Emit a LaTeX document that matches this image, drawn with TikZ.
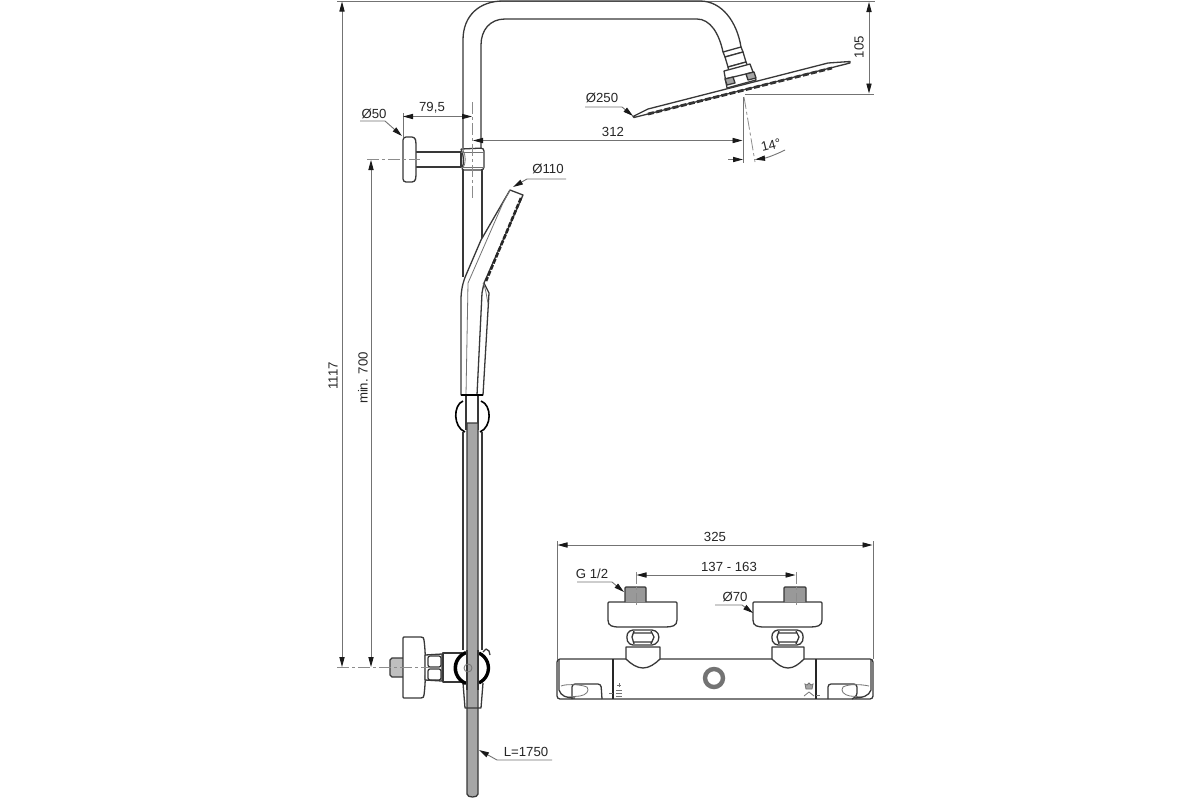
\documentclass[tikz,border=0pt]{standalone}
\usepackage{fontspec}
\setmainfont{Liberation Sans}
\usetikzlibrary{arrows.meta}
\tikzset{
 obj/.style={draw=black!78,line width=0.65pt,line join=round},
 thinobj/.style={draw=black!55,line width=0.4pt},
 dimline/.style={draw=black!55,line width=0.45pt},
 centerline/.style={draw=black!45,line width=0.4pt,dash pattern=on 6pt off 1.5pt on 1.5pt off 1.5pt},
 tip/.style={-{Triangle[length=5pt,width=2.6pt,color=black!90]}},
 tips/.style={{Triangle[length=5pt,width=2.6pt,color=black!90]}-{Triangle[length=5pt,width=2.6pt,color=black!90]}},
 lbl/.style={font=\fontsize{6.6}{8}\selectfont,text=black!85,inner sep=0pt},
 thread/.style={obj,fill=black!40},
}
\begin{document}
\begin{tikzpicture}[x=0.5pt,y=-0.5pt]
\useasboundingbox[fill=white] (0,0) rectangle (1200,800);

% --- overall extension lines
\draw[dimline] (337,1) -- (875,1);
\draw[dimline] (745,94) -- (874,94);

% --- riser pipe
\draw[obj] (463,148) -- (463,40) .. controls (463,15) and (480,1) .. (503,1) -- (700,1)
  .. controls (722,1) and (737,22) .. (741,47);
\draw[obj] (481,148) -- (481,45) .. controls (481,30) and (490,19) .. (505,19) -- (697,19)
  .. controls (710,19) and (719,33) .. (723,52);
\draw[obj] (463,170) -- (463,277);
\draw[obj] (482,170) -- (482,240);

% --- rain head joint
\draw[obj,fill=white] (723,52) -- (741,47) -- (743,52) -- (725,57) -- cycle;
\draw[obj,fill=white] (725,57) -- (743,52) -- (746,62) -- (728,67) -- cycle;
\draw[obj,fill=white] (728,67) -- (746,62) -- (748,67) -- (729,72) -- cycle;
\draw[obj,fill=white] (724,71) -- (750,64) -- (756,80) -- (727,88) -- cycle;
\draw[obj] (725,79) -- (754,72);
\draw[obj,fill=black!35] (725,79) -- (733,77) -- (735,83) -- (727,85) -- cycle;
\draw[obj,fill=black!35] (746,74) -- (754,72) -- (756,78) -- (748,80) -- cycle;

% --- rain head plate
\draw[obj,fill=white] (633,116.5) -- (648,109) -- (828,63) -- (850,61.5) -- (850,63) -- (634,117.5) -- cycle;
\draw[draw=black!80,line width=1.4pt,dash pattern=on 3pt off 1.2pt] (648,114) -- (832,68);

% --- wall bracket
\draw[obj,fill=white] (415,152) -- (461,152) -- (461,167) -- (415,167) -- cycle;
\draw[obj,rounded corners=1.5pt,fill=white] (403,137) -- (415,137) -- (416,142) -- (416,177) -- (415,182) -- (403,182) -- cycle;
\draw[obj,rounded corners=1.5pt,fill=white] (461,149) -- (484,148) -- (484,170) -- (461,170) .. controls (464,164) and (464,155) .. (461,149);
\draw[thinobj] (463,150) .. controls (466,156) and (466,163) .. (463,168);
\draw[thinobj] (461,152) -- (484,152);
\draw[thinobj] (461,167) -- (484,167);

% --- hand shower
\draw[obj,fill=white] (510,190) -- (481,240) -- (466,275) .. controls (463,282) and (461,290) .. (461,300) -- (461,395) -- (483,395)
  -- (489,293) -- (484,283) -- (523,195) -- cycle;
\draw[thinobj] (510,190) -- (503,203) -- (468,283) -- (466,395);
\draw[obj] (484,283) -- (482,293) -- (477,395);
\draw[thinobj] (483,283) .. controls (486,288) and (487,300) .. (488,303);
\draw[draw=black!85,line width=1.3pt,dash pattern=on 2.5pt off 0.8pt] (521,198) -- (486,281);
\draw[draw=black,line width=1pt] (461,395) -- (483,395);

% --- holder
\draw[obj] (466,396) -- (466,430);
\draw[obj] (478,396) -- (478,430);
\draw[draw=black,line width=0.8pt] (463,401) .. controls (453,405) and (453,427) .. (465,432);
\draw[draw=black,line width=0.8pt] (481,401) .. controls (492,405) and (492,427) .. (480,432);
\draw[obj] (463,432) -- (463,650);
\draw[obj] (482,432) -- (482,650);

% --- hose
\draw[obj,fill=black!35] (467,423) -- (478,423) -- (478,794) .. controls (478,798) and (467,798) .. (467,794) -- cycle;

% --- wall connection below
\draw[obj,fill=black!25] (403,658) -- (392,658) -- (390,660) -- (390,675) -- (392,677) -- (403,677);
\draw[obj,fill=white] (403,638) .. controls (403,637) and (404,637) .. (405,637) -- (421,637) .. controls (423,637) and (424,638) .. (424,640)
  .. controls (426,655) and (426,680) .. (424,695) .. controls (424,697) and (423,698) .. (421,698) -- (405,698) .. controls (404,698) and (403,698) .. (403,697) -- cycle;
\draw[obj,fill=white] (425,655) -- (442,654) -- (442,681) -- (425,680) -- cycle;
\draw[obj,rounded corners=1pt] (428,656) rectangle (441,667);
\draw[obj,rounded corners=1pt] (428,669) rectangle (441,680);
\draw[obj,fill=white] (443,653) -- (462,653) -- (462,682) -- (443,682) -- cycle;
\draw[obj] (463,683) -- (465,708) -- (481,708) -- (483,683);
\draw[obj] (483,652) -- (486,649) -- (489,651) -- (490,655);
\draw[obj,fill=white] (472,668) circle[radius=15.5];
\draw[draw=black,line width=1.6pt] (466,652.5) arc[start angle=250,end angle=110,radius=16.5];
\draw[draw=black,line width=1.6pt] (479,653) arc[start angle=-65,end angle=65,radius=16.5];
\fill[black!35] (467,650) rectangle (478,690);
\draw[obj] (467,650) -- (467,690);
\draw[obj] (478,650) -- (478,690);
\draw[thinobj] (468,668) circle[radius=4];

% --- centre lines
\draw[centerline] (472,102) -- (472,200);
\draw[centerline] (367,159) -- (420,159);
\draw[centerline] (337,667) -- (430,667);
\draw[centerline] (744,97) -- (755,162);

% --- dimensions: hand and rain shower side
\draw[dimline] (403,113) -- (403,137);
\draw[dimline,tips] (403,116.5) -- (472,116.5);
\node[lbl] (t795) at (432,108) {79,5};
\draw[dimline,tip] (360,121) -- (385,121) -- (402,136);
\node[lbl] (t50) at (374,114) {Ø50};

\draw[dimline,tip] (620,140.5) -- (473,140.5);
\draw[dimline,tip] (620,140.5) -- (742.5,140.5);
\node[lbl] (t312) at (613,132) {312};
\draw[dimline] (743,97) -- (743,163);

\draw[dimline,tip] (585,107) -- (622,107) -- (633,116);
\node[lbl] (t250) at (602,98) {Ø250};

\draw[dimline,tips] (869,2) -- (869,93.5);
\node[lbl,rotate=90] (t105) at (859,47) {105};

\draw[dimline,tip] (728,159.5) -- (743,159.5);
\draw[dimline,tip] (785,150) .. controls (775,155) and (766,158) .. (755,159.5);
\node[lbl,rotate=14] (t14) at (771,145) {14°};

\draw[dimline,tip] (342,300) -- (342,1.5);
\draw[dimline,tip] (342,300) -- (342,667);
\node[lbl,rotate=90] (t1117) at (333,376) {1117};
\draw[dimline,tip] (371,400) -- (371,160);
\draw[dimline,tip] (371,400) -- (371,667);
\node[lbl,rotate=90] (t700) at (363,378) {min. 700};

\draw[dimline,tip] (566,179) -- (527,179) -- (513,187);
\node[lbl] (t110) at (548,169) {Ø110};

\draw[dimline,tip] (552,760) -- (497,760) -- (479,750);
\node[lbl] (t1750) at (526,752) {L=1750};

% --- thermostat body
\draw[obj,rounded corners=1.5pt,fill=white] (557,659) -- (873,659) -- (873,699) -- (557,699) -- cycle;
\draw[draw=black!85,line width=0.8pt] (613,659) -- (613,699);
\draw[draw=black!85,line width=0.8pt] (816,659) -- (816,699);
\draw[obj,rounded corners=1.5pt] (572,699) -- (572,684) -- (601,684) -- (602,699);
\draw[thinobj] (561,686) .. controls (565,684) and (580,684) .. (587,687) .. controls (590,691) and (586,695) .. (580,696) -- (568,697);
\draw[obj] (559,660) -- (559,690) .. controls (561,696) and (566,698) .. (575,698);
\draw[obj,rounded corners=1.5pt] (828,699) -- (828,684) -- (857,684) -- (857,696) -- (852,699);
\draw[thinobj] (869,686) .. controls (860,684) and (848,684) .. (843,687) .. controls (840,691) and (844,695) .. (850,696) -- (862,697);
\draw[obj] (871,660) -- (871,690) .. controls (869,696) and (862,698) .. (855,698);
\draw[draw=black!55,line width=2.2pt] (714,678) circle[radius=9];

% small symbols
\draw[thinobj] (617,685) -- (621,685) (619,683) -- (619,687);
\draw[thinobj] (616,690) -- (622,690) (616,693) -- (622,693) (616,696) -- (622,696);
\draw[thinobj] (609,693) -- (613,693);
\draw[thinobj,fill=black!35] (805,684) -- (807,685) -- (809,683) -- (811,685) -- (813,684) -- (812,689) -- (806,689) -- cycle;
\draw[thinobj] (804,696) -- (809,692) -- (814,696);
\draw[thinobj] (816,695) -- (820,695);

% --- inlets
\draw[obj,fill=white] (626,647) -- (660,647) -- (660,659) .. controls (655,664) and (649,668) .. (643,668) .. controls (637,668) and (631,664) .. (626,659) -- cycle;
\draw[obj,fill=white] (772,647) -- (804,647) -- (804,659) .. controls (799,664) and (794,668) .. (788,668) .. controls (782,668) and (777,664) .. (772,659) -- cycle;
% nuts
\draw[obj,rounded corners=2pt,fill=white] (629,630) -- (656,630) -- (660,637) -- (656,645) -- (629,645) -- (626,637) -- cycle;
\draw[obj] (634,631) -- (632,637) -- (634,644) (651,631) -- (654,637) -- (651,644) (634,633) -- (651,633) (634,642) -- (651,642);
\draw[obj,rounded corners=2pt,fill=white] (774,630) -- (801,630) -- (804,637) -- (801,645) -- (774,645) -- (771,637) -- cycle;
\draw[obj] (779,631) -- (777,637) -- (779,644) (796,631) -- (799,637) -- (796,644) (779,633) -- (796,633) (779,642) -- (796,642);
% flanges
\draw[obj,fill=white] (608,603) .. controls (608,602) and (608,602) .. (609,602) -- (676,602) .. controls (677,602) and (677,602) .. (677,603) -- (677,620) .. controls (677,626) and (672,627) .. (665,627) -- (620,627) .. controls (612,627) and (608,626) .. (608,620) -- cycle;
\draw[obj,fill=white] (753,603) .. controls (753,602) and (753,602) .. (754,602) -- (821,602) .. controls (822,602) and (822,602) .. (822,603) -- (822,620) .. controls (822,626) and (817,627) .. (810,627) -- (765,627) .. controls (757,627) and (753,626) .. (753,620) -- cycle;
% threads
\draw[thread] (625,602) -- (625,588) -- (626,587) -- (645,587) -- (646,588) -- (646,602);
\draw[thread] (784,602) -- (784,588) -- (785,587) -- (805,587) -- (806,588) -- (806,602);

% --- thermostat dimensions
\draw[dimline] (557,541) -- (557,659);
\draw[dimline] (873,541) -- (873,659);
\draw[dimline,tip] (700,545) -- (557.5,545);
\draw[dimline,tip] (700,545) -- (872.5,545);
\node[lbl] (t325) at (715,537) {325};
\draw[centerline] (636,572) -- (636,606);
\draw[centerline] (796,572) -- (796,606);
\draw[dimline,tip] (715,575) -- (636.5,575);
\draw[dimline,tip] (715,575) -- (795.5,575);
\node[lbl] (t137) at (729,567) {137 - 163};
\draw[dimline,tip] (577,582) -- (612,582) -- (624,592);
\node[lbl] (tg) at (592,574) {G 1/2};
\draw[dimline,tip] (715,605) -- (742,605) -- (753,613);
\node[lbl] (t70) at (735,597) {Ø70};
\end{tikzpicture}
\end{document}
